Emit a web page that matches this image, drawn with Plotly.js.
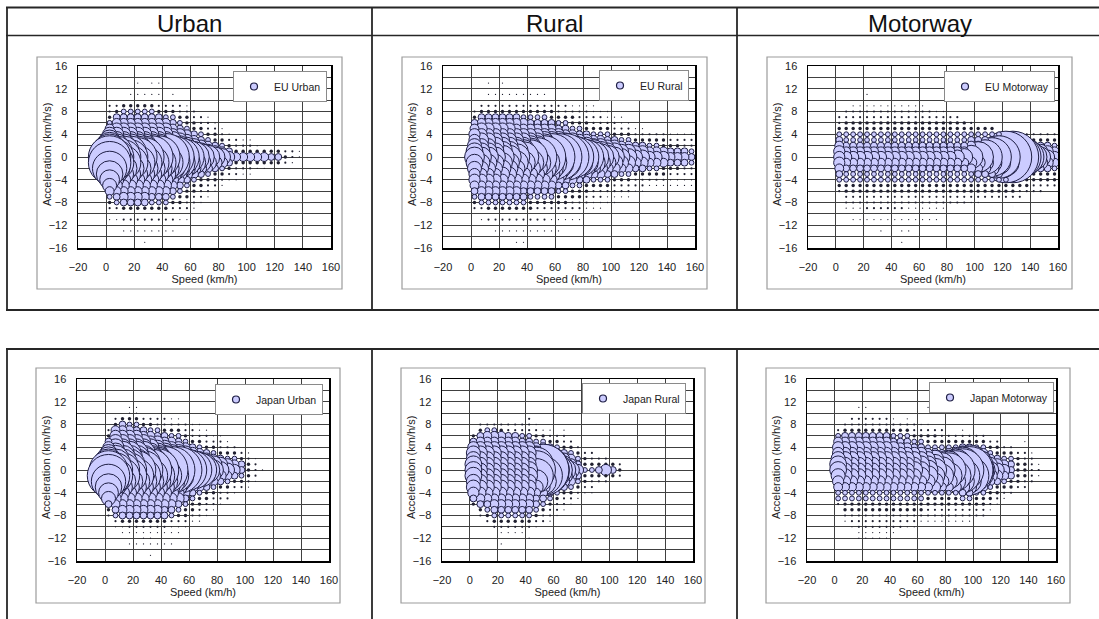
<!DOCTYPE html>
<html>
<head>
<meta charset="utf-8">
<script src="https://cdn.plot.ly/plotly-3.0.1.min.js"></script>
<style>
  html, body { margin: 0; padding: 0; background: #ffffff; }
  #chart { width: 1099px; height: 619px; }
</style>
</head>
<body>
<div id="chart"></div>
<script>
// Speed bins (km/h, bin centres) and acceleration bins (km/h/s).
const SPEED_BINS = [2.5, 7.5, 12.5, 17.5, 22.5, 27.5, 32.5, 37.5, 42.5, 47.5, 52.5, 57.5,
                    62.5, 67.5, 72.5, 77.5, 82.5, 87.5, 92.5, 97.5, 102.5, 107.5, 112.5, 117.5,
                    122.5, 127.5, 132.5, 137.5, 142.5, 147.5, 152.5, 157.5];
const ACCEL_BINS = [15, 14, 13, 12, 11, 10, 9, 8, 7, 6, 5, 4, 3, 2, 1, 0,
                    -1, -2, -3, -4, -5, -6, -7, -8, -9, -10, -11, -12, -13, -14, -15];

// Share of driving time (%) for each frequency class used in the grids below.
const SHARE_BY_CLASS = {
  '1': 0.002, '2': 0.006, '3': 0.015, '4': 0.03, '5': 0.06, '6': 0.1, '7': 0.16,
  '8': 0.25, '9': 0.36, 'a': 0.5, 'b': 0.7, 'c': 0.9, 'd': 1.2, 'e': 1.5,
  'f': 1.9, 'g': 2.3, 'h': 2.8, 'i': 3.4, 'j': 4.0
};

// One string per speed bin; characters run over ACCEL_BINS (+15 ... -15),
// grouped as  +15..+10 | +9..+1 | 0 | -1..-9 | -10..-15.  '.' = no samples.
const EU_URBAN = [
  "......|223468ace|g|geca86432|.1....",
  "......|2356789bd|e|eca876542|.1....",
  "......|3456789bd|e|eca876653|.2.1..",
  "....1.|3456789bd|e|eca876653|.2.1..",
  "..1.1.|3456789bd|f|eca876653|.2.1..",
  "....1.|3456789bd|f|eca876653|.2.1.1",
  "..1.1.|3456789bd|g|eca876543|.2.1..",
  "..1.1.|2356789bd|g|eca876543|.2.1..",
  "......|2346789bd|h|eca876543|.2.1..",
  "....1.|2345679ad|g|eb9765432|.2.1..",
  "......|2234578ac|f|da8654332|.1....",
  "......|12334679b|e|c97543322|.1....",
  "......|.2233568a|d|b86433221|......",
  "......|..2234579|c|a7533221.|......",
  "......|..1223468|b|9643221..|......",
  "......|...123357|a|853321...|......",
  "......|....12346|9|74321....|......",
  "......|.....1235|7|5321.....|......",
  "......|......223|6|3221.....|......",
  "......|......123|6|321......|......",
  "......|......123|6|321......|......",
  "......|.......13|6|31.......|......",
  "......|........3|6|31.......|......",
  "......|........3|5|3........|......",
  "......|........3|5|3........|......",
  "......|........2|3|2........|......",
  "......|........2|2|1........|......",
  "......|........1|1|.........|......"
];

const EU_RURAL = [
  "......|.23567789|a|987765432|......",
  "......|235677889|a|987766542|.1....",
  "..1.1.|235677889|a|987766543|.2....",
  "....1.|235677899|a|987766543|.2.1..",
  "..1.1.|23567789a|b|a98766543|.2.1..",
  "....1.|23567789a|b|a98766543|.2.1..",
  "....1.|23566789b|c|b98766543|.2.1.1",
  "....1.|23466789b|d|b98765543|.2.1.1",
  "....1.|2345678ac|e|ca8765433|.2.1..",
  "....1.|2345678ac|f|ca8765432|.2.1..",
  "....1.|2345679bd|g|db9765432|.2.1..",
  "......|2335679bd|h|db9765432|.1.1..",
  "......|2234579bd|h|db9754332|.1.1..",
  "......|2234568ad|h|da8654332|.1....",
  "......|1233468ac|g|ca8643322|.1....",
  "......|12234579c|f|c97543322|.1....",
  "......|12233579b|e|b97533221|......",
  "......|11223468b|d|b86432211|......",
  "......|.1223468a|c|a86432211|......",
  "......|.11234579|b|97543211.|......",
  "......|..1223579|a|97532211.|......",
  "......|..1123468|9|8643221..|......",
  "......|...123468|9|8643221..|......",
  "......|....12357|8|753221...|......",
  "......|....12357|8|753221...|......",
  "......|.....2346|7|64321....|......",
  "......|.....2346|7|64321....|......",
  "......|.....2336|7|63321....|......",
  "......|.....1235|6|53211....|......",
  "......|.....1235|6|53211....|......",
  "......|.....1225|6|52211....|......",
  "......|.....1224|5|42211....|......"
];

const EU_MOTORWAY = [
  "......|..2234567|7|765432...|......",
  "......|.22334456|7|654433221|......",
  "......|122334456|7|654433221|.1....",
  "......|122334456|7|654433221|.1....",
  "....1.|122334456|7|654433222|.1....",
  "......|122334456|7|654433222|.1....",
  "......|122334456|7|654433222|.1.1..",
  "......|122334456|7|654433222|.1....",
  "......|122334456|7|654433222|.1....",
  "......|122334456|7|654433222|.1.1.1",
  "......|122334456|7|654433221|.1.1..",
  "......|122334456|7|654433221|.1....",
  "......|122334456|7|654433221|.1....",
  "......|.22334456|7|654433221|.1....",
  "......|.12334456|7|654433221|.1....",
  "......|.12334456|7|654433221|......",
  "......|..2334456|7|65443322.|......",
  "......|..2334456|8|65443322.|......",
  "......|...334456|9|65443322.|......",
  "......|...234567|b|76443321.|......",
  "......|....34568|d|86543321.|......",
  "......|....34579|e|9754332..|......",
  "......|....3458a|f|a854332..|......",
  "......|.....458b|g|b854332..|......",
  "......|.....459c|i|c954332..|......",
  "......|.....459c|i|c954332..|......",
  "......|.....348b|g|b843322..|......",
  "......|.....237a|e|a73332...|......",
  "......|.....2369|c|963322...|......",
  "......|.....2358|a|853322...|......",
  "......|.....2357|8|75332....|......",
  "......|.....2346|7|64332....|......"
];

const JAPAN_URBAN = [
  "......|..23579bd|f|geca8532.|......",
  "......|236789acd|e|eca876542|1.....",
  "......|356789bcd|e|eca876653|11....",
  "....11|346789bcd|e|eca876653|21.1..",
  "....11|345789bcd|f|eca876653|21.1..",
  "......|235689bce|f|eca876653|2111..",
  "......|234679ace|g|eca876653|2111.1",
  "......|224578ace|g|eca876653|21.1..",
  "......|223568ace|h|eca876553|21.1..",
  "......|1234679be|h|ec9876542|11.1..",
  "......|1234579bd|h|db9775432|11....",
  "......|.223468ad|g|ca8654332|1.....",
  "......|.1223579c|f|b97543321|......",
  "......|.1123468b|e|a86433221|......",
  "......|..122357a|c|97533221.|......",
  "......|...123469|a|8643221..|......",
  "......|...122358|9|753221...|......",
  "......|....12347|8|64322....|......",
  "......|.....2346|7|5321.....|......",
  "......|......235|5|432......|......",
  "......|......123|3|321......|......",
  "......|.......12|2|21.......|......",
  "......|.........|1|.........|......"
];

const JAPAN_RURAL = [
  "......|...357889|9|988753...|......",
  "......|.23567888|8|88876532.|......",
  "......|.24667888|8|888765432|......",
  "......|.24667888|8|888766543|2.....",
  "......|.23667888|8|888766543|21.1..",
  "......|.22567888|8|888766543|21....",
  "......|.22567888|8|888766543|21....",
  "......|.22457888|8|888766543|21....",
  "......|222457888|9|988766543|2.1...",
  "......|.123468be|f|eb8655432|1.....",
  "......|..13468cf|i|fc8654322|......",
  "......|..12357ad|f|da7543221|......",
  "......|...23469b|d|b9643221.|......",
  "......|..1223579|b|9753221..|......",
  "......|....23467|9|764321...|......",
  "......|.....2345|7|54321....|......",
  "......|......233|4|3321.....|......",
  "......|......223|4|3221.....|......",
  "......|.......23|5|32.......|......",
  "......|.......23|7|32.......|......",
  "......|........3|5|3........|......",
  "......|........2|3|2........|......"
];

const JAPAN_MOTORWAY = [
  "......|..2467789|9|876442...|......",
  "......|.23567788|8|876443321|......",
  "......|223567788|8|876443322|1.....",
  "....1.|223567788|8|876443322|211...",
  "....1.|223567788|8|876443322|211...",
  "......|223567788|8|876443322|211...",
  "......|223567788|8|876443322|211...",
  "......|223567788|8|876443322|211...",
  "......|123457788|8|876443322|21....",
  "......|.23456788|8|876443322|2.....",
  "......|123456788|8|876443322|1.....",
  "......|.22345788|9|876443322|1.....",
  "......|.12345789|9|976443321|......",
  "....1.|.12334689|a|a86433221|......",
  "......|..233469a|b|a97433221|......",
  "......|..223458b|c|b86433221|......",
  "......|...23469c|e|c96433221|......",
  "......|...2347ad|f|da7433221|......",
  "......|..12358be|g|eb8543221|......",
  "......|...2358bf|h|fb8543221|......",
  "......|...23469c|e|c9643322.|......",
  "......|...23468a|b|a8643322.|......",
  "......|....23468|9|8643321..|......",
  "......|....23357|8|753321...|......",
  "......|.....2346|7|64321....|......",
  "......|.....2345|5|5332.....|......",
  "......|......233|3|332......|......",
  "......|....1.223|3|322......|......",
  "......|......122|2|22.......|......",
  "......|........1|2|1........|......"
];

const HEADERS = ['Urban', 'Rural', 'Motorway'];
const SERIES_NAMES = ['EU Urban', 'EU Rural', 'EU Motorway', 'Japan Urban', 'Japan Rural', 'Japan Motorway'];
const SERIES_GRIDS = [EU_URBAN, EU_RURAL, EU_MOTORWAY, JAPAN_URBAN, JAPAN_RURAL, JAPAN_MOTORWAY];

// ---------------------------------------------------------------- layout
const W = 1099, H = 619;
const FONT = 'Liberation Sans, Arial, Helvetica, sans-serif';
const BUBBLE_FILL = '#ccccff';
const BUBBLE_EDGE = '#1e1e44';
const DOT_COLOR = '#202030';
const GRID = '#404040';

// plot-area boxes in page pixels, legend anchor (right, top) and outer chart frame
const PANELS = [
  {l: 78,  r: 331,  t: 66,  b: 248, legR: 327,  legT: 71,  frame: [37, 57, 342, 289]},
  {l: 443, r: 695,  t: 66,  b: 248, legR: 689,  legT: 70,  frame: [402, 57, 707, 289]},
  {l: 808, r: 1058, t: 66,  b: 248, legR: 1055, legT: 71,  frame: [767, 57, 1072, 289]},
  {l: 77,  r: 329,  t: 379, b: 561, legR: 323,  legT: 384, frame: [36, 368, 340, 603]},
  {l: 442, r: 693,  t: 379, b: 561, legR: 686,  legT: 383, frame: [401, 368, 705, 603]},
  {l: 807, r: 1056, t: 379, b: 561, legR: 1054, legT: 382, frame: [766, 368, 1070, 603]}
];

const px = v => v / W;
const py = v => 1 - v / H;

// Largest class is drawn 56 px across; bubble area follows the share of time.
const MAX_SHARE = SHARE_BY_CLASS['j'];
const MAX_DIAMETER = 56;
const SIZEREF = 2 * MAX_SHARE / (MAX_DIAMETER * MAX_DIAMETER);
const diameterOf = v => MAX_DIAMETER * Math.sqrt(v / MAX_SHARE);

function cellsOf(grid) {
  const xs = [], ys = [], vs = [], fill = [], edge = [];
  // right-most speed bins first, so lower speeds sit on top
  for (let k = grid.length - 1; k >= 0; k--) {
    const col = grid[k].replace(/\|/g, '');
    for (let i = 0; i < ACCEL_BINS.length; i++) {
      const c = col.charAt(i);
      if (c && c !== '.' && SHARE_BY_CLASS[c] !== undefined) {
        const v = SHARE_BY_CLASS[c];
        xs.push(SPEED_BINS[k]);
        ys.push(ACCEL_BINS[i]);
        vs.push(v);
        // bubbles too small to show a fill print as solid dots
        const tiny = diameterOf(v) < 4;
        fill.push(tiny ? DOT_COLOR : BUBBLE_FILL);
        edge.push(tiny ? 0 : 1);
      }
    }
  }
  return {xs, ys, vs, fill, edge};
}

const traces = [];
const layout = {
  width: W, height: H,
  margin: {l: 0, r: 0, t: 0, b: 0},
  paper_bgcolor: '#ffffff',
  plot_bgcolor: '#ffffff',
  font: {family: FONT, color: '#222222', size: 11},
  showlegend: true,
  shapes: [],
  annotations: []
};

PANELS.forEach((p, i) => {
  const sfx = i === 0 ? '' : String(i + 1);
  const xId = 'x' + sfx, yId = 'y' + sfx;
  const legId = 'legend' + sfx;
  const d = cellsOf(SERIES_GRIDS[i]);

  traces.push({
    type: 'scatter', mode: 'markers',
    x: d.xs, y: d.ys,
    xaxis: xId, yaxis: yId,
    name: SERIES_NAMES[i], showlegend: false,
    hovertemplate: 'Speed %{x} km/h<br>Acceleration %{y} km/h/s<br>%{marker.size}% of time<extra></extra>',
    marker: {
      size: d.vs, sizemode: 'area', sizeref: SIZEREF, sizemin: 0.5,
      color: d.fill, opacity: 1,
      line: {color: BUBBLE_EDGE, width: d.edge}
    }
  });
  // legend entry with a fixed-size symbol
  traces.push({
    type: 'scatter', mode: 'markers',
    x: [null], y: [null],
    xaxis: xId, yaxis: yId,
    name: SERIES_NAMES[i], legend: legId, showlegend: true, hoverinfo: 'skip',
    marker: {size: 7, color: BUBBLE_FILL, line: {color: BUBBLE_EDGE, width: 1.2}}
  });

  layout['xaxis' + sfx] = {
    domain: [px(p.l), px(p.r)], anchor: yId,
    range: [-20, 160], tick0: -20, dtick: 20,
    showgrid: true, gridcolor: GRID, gridwidth: 1,
    zeroline: false, showline: true, mirror: true, linecolor: '#000000', linewidth: 1.5,
    ticks: '', ticklabelstandoff: 8,
    tickfont: {family: FONT, size: 11, color: '#222222'},
    title: {text: 'Speed (km/h)', font: {family: FONT, size: 11, color: '#222222'}, standoff: 0},
    fixedrange: true
  };
  layout['yaxis' + sfx] = {
    domain: [py(p.b), py(p.t)], anchor: xId,
    range: [-16, 16], tick0: -16, dtick: 4,
    showgrid: true, gridcolor: GRID, gridwidth: 1,
    minor: {dtick: 2, showgrid: true, gridcolor: GRID, gridwidth: 1},
    zeroline: false, showline: true, mirror: true, linecolor: '#000000', linewidth: 1.5,
    ticks: '', ticklabelstandoff: 7,
    tickfont: {family: FONT, size: 11, color: '#222222'},
    fixedrange: true
  };
  layout[legId] = {
    x: px(p.legR), xanchor: 'right', y: py(p.legT), yanchor: 'top',
    bgcolor: '#ffffff', bordercolor: '#8a8a8a', borderwidth: 1,
    font: {family: FONT, size: 10.5, color: '#222222'},
    itemwidth: 30, itemclick: false, itemdoubleclick: false
  };

  // vertical axis title, set close to the tick labels
  layout.annotations.push({
    text: 'Acceleration (km/h/s)', xref: 'paper', yref: 'paper',
    x: px(p.l - 31), y: py((p.t + p.b) / 2 - 2), xanchor: 'center', yanchor: 'middle',
    textangle: -90, showarrow: false,
    font: {family: FONT, size: 11, color: '#222222'}
  });

  // outer chart frame
  const f = p.frame;
  layout.shapes.push({
    type: 'rect', xref: 'paper', yref: 'paper', layer: 'below',
    x0: px(f[0]), x1: px(f[2]), y0: py(f[3]), y1: py(f[1]),
    line: {color: '#9c9c9c', width: 1.2}, fillcolor: 'rgba(0,0,0,0)'
  });
});

// table rules around the two rows of charts
const RULE = '#262626';
function hRule(y, x0, x1, w) {
  layout.shapes.push({type: 'line', xref: 'paper', yref: 'paper', layer: 'below',
    x0: px(x0), x1: px(x1), y0: py(y), y1: py(y), line: {color: RULE, width: w}});
}
function vRule(x, y0, y1, w) {
  layout.shapes.push({type: 'line', xref: 'paper', yref: 'paper', layer: 'below',
    x0: px(x), x1: px(x), y0: py(y0), y1: py(y1), line: {color: RULE, width: w}});
}
hRule(7.5, 6, 1099, 2);
hRule(35.5, 6, 1099, 1.5);
hRule(310, 6, 1099, 2);
[7, 372, 737].forEach(x => vRule(x, 7, 310, 1.8));
hRule(349, 6, 1099, 2);
[7, 372, 737].forEach(x => vRule(x, 349, 619, 1.8));

// column headings
const HEADER_CENTRES = [189.5, 554.5, 919.5];
HEADERS.forEach((t, i) => {
  layout.annotations.push({
    text: t, xref: 'paper', yref: 'paper',
    x: px(HEADER_CENTRES[i]), y: py(23.5), xanchor: 'center', yanchor: 'middle',
    showarrow: false, font: {family: FONT, size: 24, color: '#111111'}
  });
});

Plotly.newPlot('chart', traces, layout, {staticPlot: true, displayModeBar: false});
</script>
</body>
</html>
